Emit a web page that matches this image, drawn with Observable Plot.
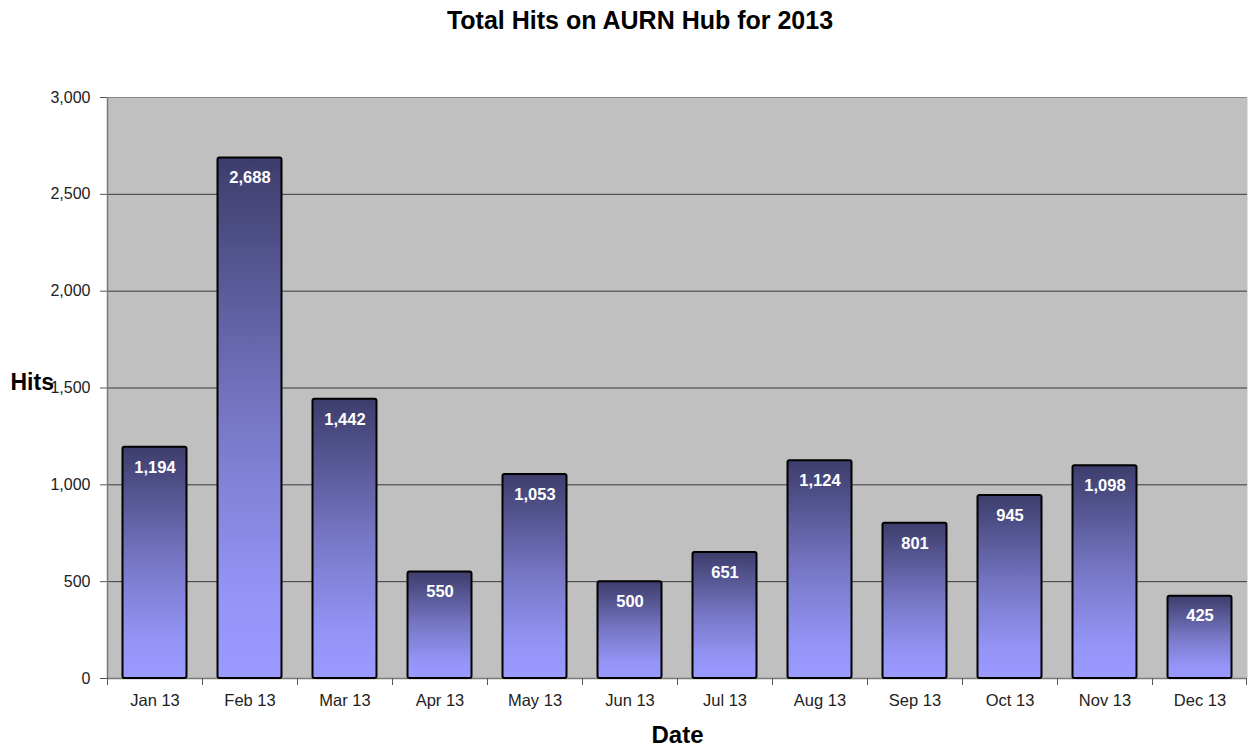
<!DOCTYPE html>
<html>
<head>
<meta charset="utf-8">
<script src="https://cdn.jsdelivr.net/npm/d3@7"></script>
<script src="https://cdn.jsdelivr.net/npm/@observablehq/plot@0.6"></script>
<style>
  body { margin: 0; background: #fff; font-family: "Liberation Sans", Arial, sans-serif; }
  #title { height: 40px; line-height: 40px; font-size: 25px; font-weight: bold; color: #000; text-align: center; padding-left: 30px; box-sizing: border-box; width: 1250px; }
</style>
</head>
<body>
<div id="title">Total Hits on AURN Hub for 2013</div>
<div id="chart"></div>
<script>
const months = ["Jan 13","Feb 13","Mar 13","Apr 13","May 13","Jun 13","Jul 13","Aug 13","Sep 13","Oct 13","Nov 13","Dec 13"];
const hits = [1194, 2688, 1442, 550, 1053, 500, 651, 1124, 801, 945, 1098, 425];
const yTicks = [0, 500, 1000, 1500, 2000, 2500, 3000];

const data = months.map((m, i) => ({month: m, hits: hits[i]}));

const W = 1250, H = 711, mL = 107, mR = 3, mT = 57, mB = 73;
const band = (W - mL - mR) / months.length;
const fmt = d3.format(",");

const gradient = () => {
  const ns = "http://www.w3.org/2000/svg";
  const defs = document.createElementNS(ns, "defs");
  defs.innerHTML = `<linearGradient id="barGrad" x1="0" y1="0" x2="0" y2="1">
      <stop offset="0" stop-color="#3d3d6c"/>
      <stop offset="0.5" stop-color="#7777c6"/>
      <stop offset="0.85" stop-color="#9595f8"/>
      <stop offset="1" stop-color="#9a9aff"/>
    </linearGradient>`;
  return defs;
};

const chart = Plot.plot({
  width: W, height: H,
  marginLeft: mL, marginRight: mR, marginTop: mT, marginBottom: mB,
  style: {fontFamily: "'Liberation Sans', Arial, sans-serif", fontSize: "16px", color: "#222", background: "#fff"},
  x: {domain: months, padding: 0, label: null},
  y: {domain: [0, 3000], label: null},
  marks: [
    gradient,
    Plot.frame({fill: "#c0c0c0", stroke: null}),
    Plot.ruleY(yTicks, {stroke: "#3a3a3a", strokeWidth: 1}),
    Plot.ruleY([3000], {stroke: "#8a8a8a", strokeWidth: 1}),
    Plot.ruleX([months[0]], {dx: -band / 2, stroke: "#7a7a7a", strokeWidth: 1.5}),
    Plot.ruleY([0], {stroke: "#7a7a7a", strokeWidth: 1.5}),
    Plot.axisY({ticks: yTicks, tickFormat: fmt, tickSize: 7, tickPadding: 10, stroke: "#555", fontSize: 16}),
    Plot.axisX({tickSize: 0, tickPadding: 16, fontSize: 16.5}),
    // boundary tick marks below the x axis
    Plot.ruleX(months, {x: d => d, dx: -band / 2, y1: 0, y2: 0, insetBottom: -7, stroke: "#555", strokeWidth: 1}),
    Plot.ruleX([months[months.length - 1]], {x: d => d, dx: band / 2 - 1, y1: 0, y2: 0, insetBottom: -7, stroke: "#555", strokeWidth: 1}),
    Plot.barY(data, {x: "month", y: "hits", fill: "url(#barGrad)", stroke: "#000", strokeWidth: 2, insetLeft: 15.5, insetRight: 15.5, rx: 2}),
    Plot.text(data, {x: "month", y: "hits", text: d => fmt(d.hits), dy: 20, fill: "#fff", fontWeight: "bold", fontSize: 16.5}),
    Plot.text(["Date"], {frameAnchor: "bottom", dy: 64, fontWeight: "bold", fontSize: 24, fill: "#000"}),
    Plot.text(["Hits"], {frameAnchor: "left", dx: -97, dy: -5, textAnchor: "start", fontWeight: "bold", fontSize: 23, fill: "#000"})
  ]
});

document.getElementById("chart").appendChild(chart);
</script>
</body>
</html>
